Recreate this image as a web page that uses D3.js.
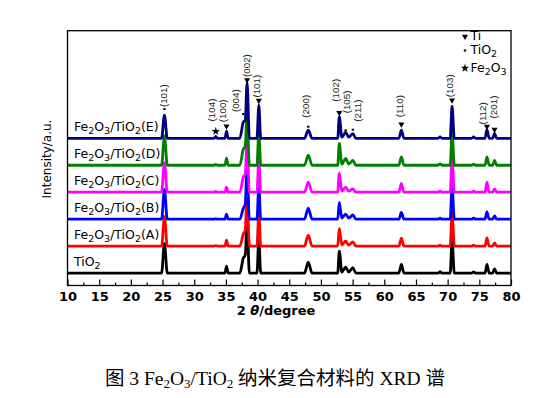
<!DOCTYPE html>
<html><head><meta charset="utf-8">
<script src="https://cdn.jsdelivr.net/npm/d3@7"></script>
<style>html,body{margin:0;padding:0;background:#fff;} svg{display:block;}</style>
</head><body><svg id="c" width="553" height="398"></svg>
<script>
// ---------- data ----------
const twoTheta = [10, 24.85,25.3,25.75, 33.15,33.4,33.65, 34.85,35.1,35.35,
  37.2,37.75,38.05,38.35,38.7, 39.9,40.2,40.5, 47.4,48.0,48.6,
  52.65,52.9,53.3,53.9,54.4,55.05,55.5, 62.3,62.7,63.1, 68.5,68.8,69.1,
  70.4,70.7,71.05, 73.8,74.1,74.4, 75.9,76.2,76.55, 77.1,77.4,77.75, 80];

const intensityTiO2 = [0,0,110,0, 0,0,0, 0,26,0, 0,56,66,200,0, 0,125,0, 0,41,0, 0,81,4,22,4,20,0, 0,32,0, 0,5,0, 0,125,0, 0,4,0, 0,32,0, 0,16,0, 0];
const intensityA    = [0,0,110,0, 0,2,0, 0,22,0, 0,45,58,200,0, 0,125,0, 0,41,0, 0,66,4,19,4,16,0, 0,30,0, 0,4,0, 0,125,0, 0,4,0, 0,31,0, 0,12,0, 0];
const intensityB    = [0,0,110,0, 0,2,0, 0,19,0, 0,41,55,200,0, 0,125,0, 0,41,0, 0,62,4,19,4,16,0, 0,25,0, 0,4,0, 0,125,0, 0,4,0, 0,27,0, 0,12,0, 0];
const intensityC    = [0,0,110,0, 0,3,0, 0,19,0, 0,56,66,200,0, 0,125,0, 0,37,0, 0,71,4,19,4,12,0, 0,33,0, 0,4,0, 0,125,0, 0,4,0, 0,37,0, 0,11,0, 0];
const intensityD    = [0,0,110,0, 0,3,0, 0,26,0, 0,60,70,200,0, 0,125,0, 0,37,0, 0,81,4,25,4,18,0, 0,31,0, 0,5,0, 0,125,0, 0,4,0, 0,31,0, 0,18,0, 0];
const intensityE    = [0,0,86,0, 0,7,0, 0,26,0, 0,60,66,205,0, 0,123,0, 0,30,0, 0,80,4,22,4,17,0, 0,30,0, 0,5,0, 0,119,0, 0,5,0, 0,33,0, 0,18,0, 0];

const seriesLabels = ["TiO2","Fe2O3/TiO2(A)","Fe2O3/TiO2(B)","Fe2O3/TiO2(C)","Fe2O3/TiO2(D)","Fe2O3/TiO2(E)"];
const seriesColors = ["#000000","#ff0000","#0000ff","#ff00ff","#008000","#000080"];
const xTicks = [10,15,20,25,30,35,40,45,50,55,60,65,70,75,80];

const peakLabels = ["(101)","(104)","(100)","(004)","(002)","(101)","(200)","(102)","(105)","(211)","(110)","(103)","(112)","(201)"];
const peakPos    = [25.3, 33.4, 35.1, 37.75, 38.35, 40.2, 48.0, 52.9, 53.9, 55.05, 62.7, 70.7, 76.2, 77.4];
const peakPhase  = ["TiO2","Fe2O3","Ti","TiO2","Ti","Ti","TiO2","Ti","TiO2","TiO2","Ti","Ti","Ti","Ti"];
const legendPhases = ["Ti","TiO2","Fe2O3"];

// ---------- layout ----------
const series = [intensityTiO2,intensityA,intensityB,intensityC,intensityD,intensityE];
const svg = d3.select("#c");
const L=67.5, R=511, T=30.7, B=285.5;
const x = d3.scaleLinear().domain([10,80]).range([L,R]);
const y = d3.scaleLinear().domain([0,945]).range([B,T]);
const baseOffset = 46, step = 100;

const SANS = "'DejaVu Sans', sans-serif";

function richText(sel, str, size, subSize){
  // digits that follow a letter become subscripts
  let buf = "";
  const tokens = [];
  str.replace(/([A-Za-z])(\d)|([^])/g, (m, a, d, o) => {
    if (d !== undefined){ buf += a; tokens.push({t:buf, sub:false}); buf=""; tokens.push({t:d, sub:true}); }
    else buf += o;
    return m;
  });
  if (buf) tokens.push({t:buf, sub:false});
  let shifted = false;
  tokens.forEach(tok => {
    const ts = sel.append("tspan").text(tok.t);
    if (tok.sub){ ts.attr("font-size", subSize).attr("dy", shifted?0:3); shifted = true; }
    else { ts.attr("font-size", size); if (shifted){ ts.attr("dy",-3); shifted=false; } }
  });
}

// series labels
series.forEach((s,i) => {
  const t = svg.append("text").attr("x", 74).attr("y", y(baseOffset+i*step)-7)
    .attr("font-family", SANS).attr("fill","#000");
  richText(t, seriesLabels[i], 12.5, 9.5);
});

// lines
const line = d3.line().x(d=>x(d[0])).y(d=>y(d[1])).curve(d3.curveMonotoneX);
series.forEach((s,i) => {
  const pts = twoTheta.map((t,j)=>[t, baseOffset+i*step+s[j]]);
  svg.append("path").attr("d", line(pts)).attr("fill","none")
    .attr("stroke", seriesColors[i]).attr("stroke-width",2.8).attr("stroke-linejoin","round");
});

// frame
svg.append("rect").attr("x",L).attr("y",T).attr("width",R-L).attr("height",B-T)
  .attr("fill","none").attr("stroke","#000").attr("stroke-width",1.3);

// x axis
const ax = svg.append("g").attr("transform",`translate(0,${B})`)
  .call(d3.axisBottom(x).tickValues(xTicks).tickSize(-6).tickPadding(6.5).tickFormat(d3.format("d")));
ax.select(".domain").remove();
ax.selectAll("line").attr("stroke","#000").attr("stroke-width",1.2);
ax.selectAll("text").attr("font-family",SANS).attr("font-weight","bold").attr("font-size",13).attr("fill","#000");
const minor = svg.append("g").attr("transform",`translate(0,${B})`)
  .call(d3.axisBottom(x).tickValues(xTicks.slice(0,-1).map(v=>v+2.5)).tickSize(-3).tickFormat(""));
minor.select(".domain").remove();
minor.selectAll("line").attr("stroke","#000").attr("stroke-width",1.2);

// axis titles
const xt = svg.append("text").attr("x",276).attr("y",315).attr("text-anchor","middle")
  .attr("font-family",SANS).attr("font-weight","bold").attr("font-size",13).attr("fill","#000");
xt.append("tspan").text("2 ");
xt.append("tspan").attr("font-style","italic").text("θ");
xt.append("tspan").text("/degree");
svg.append("text").attr("transform","translate(47,159) rotate(-90)").attr("text-anchor","middle")
  .attr("dy","0.35em").attr("font-family",SANS).attr("font-size",12).attr("fill","#000").text("Intensity/a.u.");

// markers
function marker(g, phase, cx, cy){
  if (phase==="Ti") g.append("path").attr("d", d3.symbol(d3.symbolTriangle, 16)())
      .attr("transform",`translate(${cx},${cy}) rotate(180)`).attr("fill","#000");
  else if (phase==="TiO2") g.append("rect").attr("x",cx-1.2).attr("y",cy-1).attr("width",2.4).attr("height",2).attr("fill","#000");
  else g.append("path").attr("d", d3.symbol(d3.symbolStar, 22)()).attr("transform",`translate(${cx},${cy})`).attr("fill","#000");
}

// peak annotations (on top series)
const annGap  = [6,5,5,8,3,4.5,3.5,4,2,4,6,6,3,4];
const annDx   = [-1,-4,-4,-8,-1,-2,-3,-4,1,5,-2,-3,-4,-1];
const annLift = [2,10,4,2,3,3,9,11,17,8,7,3,2,11];
const topIdx = series.length-1;
const ag = svg.append("g");
peakPos.forEach((p,k) => {
  const j = twoTheta.indexOf(p);
  const my = y(baseOffset+topIdx*step+series[topIdx][j]) - annGap[k];
  const mx = x(p);
  marker(ag, peakPhase[k], mx, my);
  ag.append("text").attr("transform",`translate(${mx+annDx[k]},${my-annLift[k]}) rotate(-90)`)
    .attr("dy","0.35em").attr("font-family","'Liberation Sans', Arial, sans-serif").attr("font-size",9.8)
    .attr("fill","#222").text(peakLabels[k]);
});

// legend
const legY = [40,54,71.7];
legendPhases.forEach((ph,i) => {
  marker(svg, ph, 465, legY[i]-3.5);
  const t = svg.append("text").attr("x",470.5).attr("y",legY[i]).attr("font-family",SANS).attr("fill","#000");
  richText(t, ph, 12.5, 9.5);
});

// caption
const cap = svg.append("text").attr("x",275).attr("y",385).attr("text-anchor","middle")
  .attr("font-family","'Liberation Serif','Noto Sans CJK SC',serif").attr("font-size",19.5).attr("fill","#000");
cap.append("tspan").text("图 3 Fe");
cap.append("tspan").attr("font-size",13).attr("dy",3).text("2");
cap.append("tspan").attr("dy",-3).text("O");
cap.append("tspan").attr("font-size",13).attr("dy",3).text("3");
cap.append("tspan").attr("dy",-3).text("/TiO");
cap.append("tspan").attr("font-size",13).attr("dy",3).text("2");
cap.append("tspan").attr("dy",-3).text(" 纳米复合材料的 XRD 谱");
</script></body></html>
